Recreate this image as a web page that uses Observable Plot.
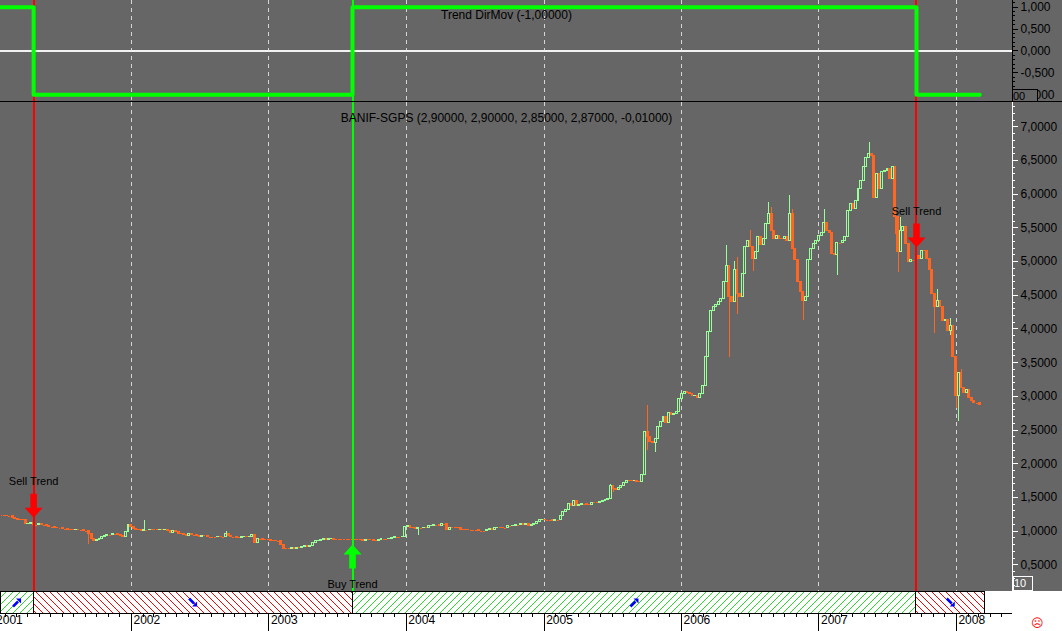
<!DOCTYPE html>
<html><head><meta charset="utf-8">
<script src="https://cdn.jsdelivr.net/npm/d3@7"></script>
<script src="https://cdn.jsdelivr.net/npm/@observablehq/plot@0.6"></script>
<style>
body{margin:0;background:#fff;}
#root{position:relative;width:1062px;height:631px;overflow:hidden;background:#fff;font-family:"Liberation Sans",Arial,sans-serif;}
#root svg{display:block;}
.pane{position:absolute;left:0;}
</style></head><body>
<div id="root">
 <div id="top" class="pane" style="top:0"></div>
 <div id="main" class="pane" style="top:102px"></div>
 <div id="strip" class="pane" style="top:591px"></div>
 <div style="position:absolute;left:0;top:101px;width:1062px;height:1px;background:#000"></div>
 <div style="position:absolute;left:1012px;top:89px;width:24px;height:11px;border:1px solid #000;background:#666;font-size:11px;line-height:12px;color:#000;overflow:hidden">00</div>
 <div style="position:absolute;left:1013px;top:576px;width:18px;height:13px;border:1px solid #fff;font-size:11px;line-height:13px;color:#fff;overflow:hidden;">10</div>
 <div style="position:absolute;left:1031px;top:616px;color:#f00;font-size:12px;line-height:14px">&#9785;</div>
</div>
<script>
// ---------------- data ----------------
const viewRange = ["2001-01-18", "2008-05-29"];
const weekStart = "2001-01-22";           // first weekly bar
const closes = [
 1.23,1.23,1.22,1.22,1.20,1.18,1.17,1.17,1.16,1.10,
 1.11,1.12,1.09,1.09,1.10,1.09,1.09,1.08,1.06,1.06,
 1.05,1.04,1.04,1.03,1.03,1.02,1.02,1.01,1.02,1.01,
 1.01,1.00,1.00,0.95,0.88,0.86,0.87,0.88,0.91,0.93,
 0.94,0.94,0.95,0.95,0.94,0.93,0.92,0.98,1.09,1.06,
 1.03,1.02,1.01,1.00,1.01,1.01,1.02,1.02,1.02,1.01,
 1.02,1.01,1.02,1.00,0.97,1.00,0.98,0.96,0.95,0.94,
 0.93,0.95,0.94,0.94,0.93,0.92,0.93,0.93,0.91,0.91,
 0.91,0.91,0.92,0.91,0.91,0.96,0.93,0.91,0.91,0.90,
 0.90,0.91,0.92,0.91,0.92,0.94,0.82,0.88,0.88,0.87,
 0.87,0.87,0.86,0.86,0.85,0.85,0.79,0.74,0.74,0.74,
 0.75,0.74,0.75,0.75,0.76,0.78,0.76,0.78,0.83,0.85,
 0.86,0.87,0.88,0.87,0.88,0.89,0.87,0.87,0.87,0.87,
 0.87,0.87,0.87,0.87,0.87,0.87,0.87,0.86,0.87,0.87,
 0.87,0.86,0.86,0.87,0.88,0.88,0.88,0.89,0.90,0.91,
 0.91,0.91,0.92,1.06,1.07,1.05,1.04,1.03,1.04,1.04,
 1.05,1.05,1.07,1.08,1.09,1.09,1.08,1.10,1.10,1.02,
 1.05,1.05,1.05,1.04,1.02,1.02,1.02,1.01,1.01,1.01,
 1.01,1.00,1.00,1.00,1.02,1.03,1.02,1.04,1.05,1.05,
 1.04,1.04,1.07,1.07,1.08,1.09,1.09,1.10,1.09,1.10,
 1.08,1.09,1.11,1.14,1.16,1.17,1.16,1.16,1.16,1.15,
 1.16,1.16,1.23,1.28,1.31,1.40,1.38,1.44,1.38,1.39,
 1.40,1.40,1.39,1.39,1.42,1.42,1.42,1.43,1.44,1.46,
 1.47,1.67,1.62,1.61,1.64,1.67,1.72,1.75,1.75,1.74,
 1.75,1.73,1.73,1.84,2.47,2.39,2.33,2.31,2.37,2.54,
 2.62,2.69,2.60,2.76,2.73,2.74,2.77,2.96,3.04,3.06,
 3.05,3.03,3.00,3.01,2.98,3.04,3.16,3.58,3.95,4.27,
 4.33,4.36,4.40,4.45,4.69,4.94,4.47,4.40,4.87,4.52,
 4.47,4.82,5.21,5.31,5.21,5.04,5.14,5.36,5.24,5.34,
 5.56,5.71,5.46,5.34,5.38,5.34,5.33,5.36,5.30,5.71,
 5.19,5.02,4.69,4.55,4.42,4.47,5.02,5.19,5.26,5.31,
 5.38,5.43,5.58,5.46,5.42,5.12,5.10,5.27,5.27,5.30,
 5.36,5.75,5.85,5.78,5.90,6.08,6.20,6.40,6.53,6.60,
 6.56,5.95,6.30,6.08,6.33,6.35,6.38,6.22,6.41,5.66,
 5.14,5.46,5.51,5.26,5.00,5.02,5.02,5.09,5.04,5.16,
 5.16,5.04,4.87,4.52,4.32,4.42,4.32,4.12,4.13,3.97,
 4.05,3.58,3.00,3.35,3.12,3.05,3.10,2.97,2.93,2.90,
 2.90,2.87
];
// [week index, high, low] for visible shadows
const wicks = [
 [19,1.13,null],[33,null,0.80],[54,1.16,null],[85,0.99,null],[158,null,0.93],
 [231,1.69,null],[232,null,1.57],[245,2.86,2.20],[248,null,2.17],[275,5.24,null],
 [276,null,3.58],[278,5.00,null],[279,5.06,4.22],[281,null,4.70],[282,null,4.95],
 [284,5.46,null],[285,null,4.85],[291,5.88,null],[292,5.81,null],[299,5.98,null],
 [300,5.78,null],[304,null,4.13],[312,5.77,null],[317,null,4.80],[329,6.77,null],
 [339,null,5.40],[340,null,4.84],[341,5.66,null],[346,null,4.23],[350,5.26,null],
 [354,null,3.93],[355,4.59,null],[360,4.15,3.90],[362,null,2.82],[363,null,2.63],
 [364,3.40,null]
];
const trendDates  = ["2001-01-18","2001-04-16","2003-08-11","2007-09-17","2008-03-03"];
const trendValues = [1,-1,1,-1,-1];
const signalDates  = ["2001-04-16","2003-08-11","2007-09-17"];
const signalKinds  = ["Sell","Buy","Sell"];
const signalLevels = [1.20, 0.80, 5.21];
const yearLabels = ["2001","2002","2003","2004","2005","2006","2007","2008"];
const priceTicks = [0.5,1,1.5,2,2.5,3,3.5,4,4.5,5,5.5,6,6.5,7];
const trendTicks = [1,0.5,0,-0.5,-1];
const lastBar = [2.90, 2.90, 2.85, 2.87, -0.01];
const indicatorLast = -1;
const symbolName = "BANIF-SGPS";
const indicatorName = "Trend DirMov";

// ---------------- setup ----------------
const W = 1062, FRAME_W = 1012;
const BG = "#666666", UP = "#99ff99", DOWN = "#ff6622", RED = "#ff0000", LIME = "#00ff00";
const FONT = '"Liberation Sans", Arial, sans-serif';
const CRISP = "crispEdges";
const loc = d3.formatLocale({decimal: ",", thousands: ".", grouping: [3], currency: ["", ""], minus: "-"});
const f3 = loc.format(".3f"), f4 = loc.format(".4f"), f5 = loc.format(".5f");
const parse = s => new Date(s + "T00:00:00Z");
const xDomain = viewRange.map(parse);
const t0 = parse(weekStart);
const wickMap = new Map(wicks.map(([i, h, l]) => [i, {h, l}]));
const candles = closes.map((c, i) => {
  const open = i === 0 ? c : closes[i - 1];
  const w = wickMap.get(i) || {};
  return {
    date: d3.utcDay.offset(t0, 7 * i), open, close: c,
    high: Math.max(open, c, w.h ?? -Infinity),
    low: Math.min(open, c, w.l ?? Infinity)
  };
});
const upC = candles.filter(d => d.close > d.open);
const dnC = candles.filter(d => d.close < d.open);
const flatC = candles.filter(d => d.close === d.open);
const half = 2.6 * 864e5;
const bx1 = d => new Date(+d.date - half), bx2 = d => new Date(+d.date + half);

const yearDates = yearLabels.map(y => parse(y + "-01-01"));
const gridDates = yearDates.filter(d => d > xDomain[0]);
const monthDates = d3.utcMonth.range(xDomain[0], xDomain[1]).filter(d => d.getUTCMonth() !== 0);
const signals = signalDates.map((d, i) => ({date: parse(d), kind: signalKinds[i], level: signalLevels[i]}));
const sells = signals.filter(s => s.kind === "Sell"), buys = signals.filter(s => s.kind === "Buy");
const sigColor = d => d.kind === "Sell" ? RED : LIME;
const trend = trendDates.map((d, i) => ({date: parse(d), value: trendValues[i]}));

const arrowDown = {draw(c) {
  c.moveTo(-3.3, -24); c.lineTo(3.3, -24); c.lineTo(3.3, -10); c.lineTo(9, -10);
  c.lineTo(0, 0); c.lineTo(-9, -10); c.lineTo(-3.3, -10); c.closePath();
}};
const arrowUp = {draw(c) {
  c.moveTo(-3.3, 24); c.lineTo(3.3, 24); c.lineTo(3.3, 10); c.lineTo(9, 10);
  c.lineTo(0, 0); c.lineTo(-9, 10); c.lineTo(-3.3, 10); c.closePath();
}};
const blueNE = {draw(c) {
  c.moveTo(4, -4); c.lineTo(4, 1); c.lineTo(-1, -4); c.closePath();
  c.moveTo(-3.1, 4.9); c.lineTo(1.9, -0.1); c.lineTo(0.1, -1.9); c.lineTo(-4.9, 3.1); c.closePath();
}};
const blueSE = {draw(c) {
  c.moveTo(4, 4); c.lineTo(4, -1); c.lineTo(-1, 4); c.closePath();
  c.moveTo(-3.1, -4.9); c.lineTo(1.9, 0.1); c.lineTo(0.1, 1.9); c.lineTo(-4.9, -3.1); c.closePath();
}};

const grid = () => Plot.ruleX(gridDates, {x: d => d, stroke: "#d6d6d6", strokeDasharray: "4,4", shapeRendering: CRISP});
const sigLines = () => Plot.ruleX(signals, {x: "date", stroke: sigColor, strokeWidth: 2, shapeRendering: CRISP});

// ---------------- top panel ----------------
const topTicksMinor = d3.range(-11, 12).map(k => k / 10);
const topPlot = Plot.plot({
  width: W, height: 102,
  marginLeft: 0, marginRight: W - FRAME_W, marginTop: 0, marginBottom: 0,
  style: {background: BG, fontFamily: FONT, fontSize: "12px", color: "black"},
  x: {type: "utc", domain: xDomain, axis: null},
  y: {domain: [-1.176, 1.153], axis: null},
  color: {type: "identity"},
  marks: [
    grid(),
    Plot.ruleY([0], {stroke: "#f2f2f2", strokeWidth: 1.2, shapeRendering: CRISP}),
    sigLines(),
    Plot.line(trend, {x: "date", y: "value", curve: "step-after", stroke: LIME, strokeWidth: 4}),
    Plot.text([`${indicatorName} (${f5(indicatorLast)})`], {text: d => d, frameAnchor: "top", dy: 10, fill: "black", fontSize: 12}),
    Plot.ruleX([xDomain[1]], {stroke: "black", shapeRendering: CRISP}),
    Plot.tickY(topTicksMinor, {y: d => d, insetLeft: FRAME_W, insetRight: -3, stroke: "black", shapeRendering: CRISP}),
    Plot.tickY(trendTicks, {y: d => d, insetLeft: FRAME_W, insetRight: -6, stroke: "black", shapeRendering: CRISP}),
    Plot.text(trendTicks, {y: d => d, text: d => f3(d), frameAnchor: "right", textAnchor: "start", dx: 8, fill: "black", fontSize: 12})
  ]
});
document.getElementById("top").appendChild(topPlot);

// ---------------- main panel ----------------
const priceMinor = d3.range(2, 74).map(k => k / 10);
const mainPlot = Plot.plot({
  width: W, height: 489,
  marginLeft: 0, marginRight: W - FRAME_W, marginTop: 0, marginBottom: 0,
  style: {background: BG, fontFamily: FONT, fontSize: "12px", color: "black"},
  x: {type: "utc", domain: xDomain, axis: null},
  y: {domain: [0.104, 7.361], axis: null},
  color: {type: "identity"},
  marks: [
    grid(),
    Plot.ruleX(upC.filter(d => d.high > d.close), {x: "date", y1: "close", y2: "high", stroke: UP, shapeRendering: CRISP}),
    Plot.ruleX(upC.filter(d => d.low < d.open), {x: "date", y1: "low", y2: "open", stroke: UP, shapeRendering: CRISP}),
    Plot.ruleX(dnC.filter(d => d.high > d.open), {x: "date", y1: "open", y2: "high", stroke: DOWN, shapeRendering: CRISP}),
    Plot.ruleX(dnC.filter(d => d.low < d.close), {x: "date", y1: "low", y2: "close", stroke: DOWN, shapeRendering: CRISP}),
    Plot.ruleY(flatC, {y: "close", x1: bx1, x2: bx2, stroke: DOWN, shapeRendering: CRISP}),
    Plot.rect(dnC, {x1: bx1, x2: bx2, y1: "open", y2: "close", fill: DOWN, stroke: DOWN, shapeRendering: CRISP}),
    Plot.rect(upC, {x1: bx1, x2: bx2, y1: "open", y2: "close", fill: BG, stroke: UP, shapeRendering: CRISP}),
    sigLines(),
    Plot.dot(sells, {x: "date", y: "level", symbol: arrowDown, r: 6, fill: RED, stroke: "none"}),
    Plot.dot(buys, {x: "date", y: "level", symbol: arrowUp, r: 6, fill: LIME, stroke: "none"}),
    Plot.text(sells, {x: "date", y: "level", text: d => d.kind + " Trend", dy: -36, fill: "black", fontSize: 11}),
    Plot.text(buys, {x: "date", y: "level", text: d => d.kind + " Trend", dy: 40, fill: "black", fontSize: 11}),
    Plot.text([`${symbolName} (${lastBar.map(f5).join(", ")})`], {text: d => d, frameAnchor: "top", dy: 11, fill: "black", fontSize: 12}),
    Plot.ruleX([xDomain[1]], {stroke: "white", shapeRendering: CRISP}),
    Plot.tickY(priceMinor, {y: d => d, insetLeft: FRAME_W, insetRight: -3, stroke: "white", shapeRendering: CRISP}),
    Plot.tickY(priceTicks, {y: d => d, insetLeft: FRAME_W, insetRight: -6, stroke: "white", shapeRendering: CRISP}),
    Plot.text(priceTicks, {y: d => d, text: d => f4(d), frameAnchor: "right", textAnchor: "start", dx: 8, fill: "black", fontSize: 12})
  ]
});
document.getElementById("main").appendChild(mainPlot);

// ---------------- trend strip + time axis ----------------
const segs = trend.slice(0, -1).map((t, i) => {
  const x1 = t.date;
  const x2 = i === trend.length - 2 ? d3.utcDay.offset(trend[i + 1].date, 14) : trend[i + 1].date;
  return {x1, x2, mid: new Date((+x1 + +x2) / 2), up: t.value > 0};
});
const stripPlot = Plot.plot({
  width: W, height: 40,
  marginLeft: 0, marginRight: W - FRAME_W, marginTop: 0, marginBottom: 18,
  style: {background: "white", fontFamily: FONT, fontSize: "12px", color: "black"},
  x: {type: "utc", domain: xDomain, axis: null},
  y: {domain: [0, 1], axis: null},
  color: {type: "identity"},
  marks: [
    Plot.rect(segs, {x1: "x1", x2: "x2", fill: d => d.up ? "url(#hatchUp)" : "url(#hatchDown)", stroke: "black", shapeRendering: CRISP}),
    Plot.dot(segs.filter(d => d.up), {x: "mid", symbol: blueNE, r: 4, fill: "#0000ff", stroke: "none"}),
    Plot.dot(segs.filter(d => !d.up), {x: "mid", symbol: blueSE, r: 4, fill: "#0000ff", stroke: "none"}),
    Plot.ruleY([0], {stroke: "black", shapeRendering: CRISP}),
    Plot.tickX(monthDates, {x: d => d, insetTop: 22, insetBottom: -4, stroke: "black", shapeRendering: CRISP}),
    Plot.tickX(yearDates, {x: d => d, insetTop: 22, insetBottom: -18, stroke: "black", shapeRendering: CRISP}),
    Plot.text(yearDates, {x: d => d, text: (d, i) => yearLabels[i], frameAnchor: "bottom", textAnchor: "start", dx: 2, dy: 10, fill: "black", fontSize: 12})
  ]
});
const defs = d3.select(stripPlot).insert("defs", ":first-child");
const pu = defs.append("pattern").attr("id", "hatchUp").attr("patternUnits", "userSpaceOnUse").attr("width", 7).attr("height", 7);
pu.append("rect").attr("width", 7).attr("height", 7).attr("fill", "white");
pu.append("path").attr("d", "M-1,1 l2,-2 M0,7 l7,-7 M6,8 l2,-2").attr("stroke", "#22dd22").attr("stroke-width", 1);
const pd = defs.append("pattern").attr("id", "hatchDown").attr("patternUnits", "userSpaceOnUse").attr("width", 7).attr("height", 7);
pd.append("rect").attr("width", 7).attr("height", 7).attr("fill", "white");
pd.append("path").attr("d", "M-1,6 l2,2 M0,0 l7,7 M6,-1 l2,2").attr("stroke", "#ff0000").attr("stroke-width", 1);
document.getElementById("strip").appendChild(stripPlot);
</script>
</body></html>
